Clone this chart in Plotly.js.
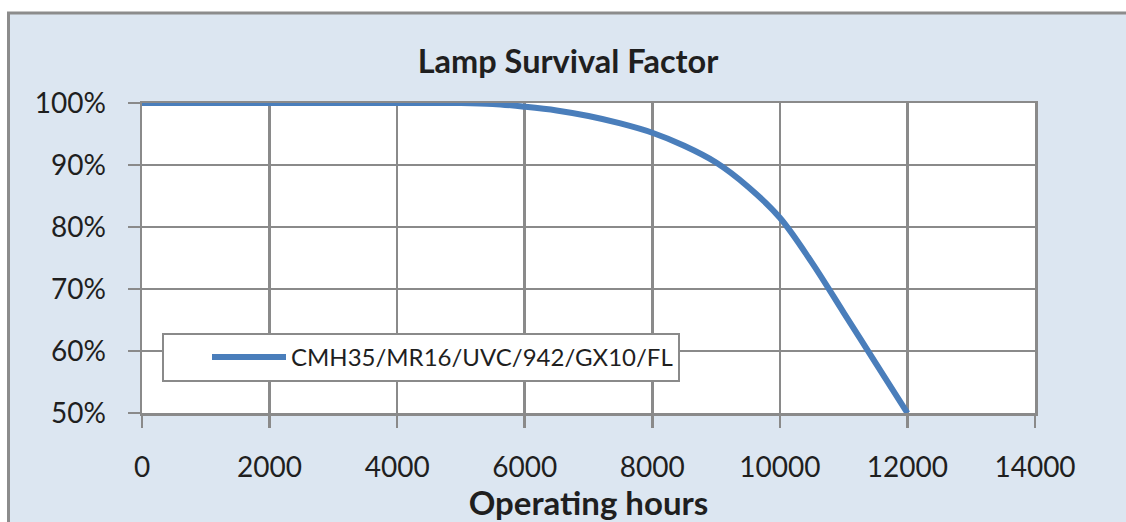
<!DOCTYPE html>
<html>
<head>
<meta charset="utf-8">
<script src="https://cdn.plot.ly/plotly-3.0.1.min.js"></script>
<style>
html,body{margin:0;padding:0;background:#fff;}
#chart{width:1126px;height:522px;}
</style>
</head>
<body>
<div id="chart"></div>
<script>
// Data
const seriesName = "CMH35/MR16/UVC/942/GX10/FL";
const hours = [0, 1000, 2000, 3000, 4000, 5000, 5500, 6000, 6500, 7000, 7500, 8000, 8500, 9000, 9500, 10000, 10500, 11000, 11500, 12000];
const survival = [100, 100, 100, 100, 100, 100, 99.85, 99.4, 98.8, 97.9, 96.7, 95.2, 93.1, 90.4, 86.5, 81.5, 74.3, 66.2, 58.1, 50.0];
const xTicks = [0, 2000, 4000, 6000, 8000, 10000, 12000, 14000];
const yTicks = [50, 60, 70, 80, 90, 100];
const yTickLabels = ["50%", "60%", "70%", "80%", "90%", "100%"];
const chartTitle = "Lamp Survival Factor";
const xTitle = "Operating hours";

const W = 1126, H = 522;
const L = 142, R = 1035, T = 103, B = 413;
const px2x = p => (p - L) / (R - L);
const px2y = p => (B - p) / (B - T);

const font = "Lato, 'Open Sans', sans-serif";
const gridCol = "#8a8a8a";
const textCol = "#1f1f1f";

const trace = {
  x: hours,
  y: survival,
  type: "scatter",
  mode: "lines",
  name: seriesName,
  line: {color: "#4a7ebb", width: 6, shape: "spline", smoothing: 1}
};

const layout = {
  width: W, height: H,
  margin: {l: L, r: W - R, t: T, b: H - B, pad: 0},
  paper_bgcolor: "#ffffff",
  plot_bgcolor: "#ffffff",
  title: {
    text: "<b>" + chartTitle + "</b>",
    font: {family: font, size: 32.5, color: textCol},
    xref: "container", x: 568 / W, xanchor: "center",
    yref: "container", y: 1 - 62 / H, yanchor: "middle"
  },
  xaxis: {
    range: [0, 14000],
    tickvals: xTicks,
    ticktext: xTicks.map(String),
    showgrid: true, gridcolor: gridCol, gridwidth: 2.5,
    showline: true, linecolor: gridCol, linewidth: 2.5, mirror: true,
    ticks: "outside", ticklen: 12, tickwidth: 2.5, tickcolor: gridCol,
    ticklabelstandoff: 16,
    tickfont: {family: font, size: 28, color: textCol},
    zeroline: false,
    title: {text: "<b>" + xTitle + "</b>", font: {family: font, size: 33, color: textCol}, standoff: 4},
    fixedrange: true
  },
  yaxis: {
    range: [50, 100],
    tickvals: yTicks,
    ticktext: yTickLabels,
    showgrid: true, gridcolor: gridCol, gridwidth: 2.5,
    showline: true, linecolor: gridCol, linewidth: 2.5, mirror: true,
    ticks: "outside", ticklen: 12, tickwidth: 2.5, tickcolor: gridCol,
    ticklabelstandoff: 16,
    tickfont: {family: font, size: 28, color: textCol},
    zeroline: false,
    fixedrange: true
  },
  showlegend: true,
  legend: {
    x: px2x(162), y: px2y(333), xanchor: "left", yanchor: "top",
    bgcolor: "#ffffff", bordercolor: gridCol, borderwidth: 2,
    font: {family: font, size: 24, color: textCol},
    indentation: 43,
    itemwidth: 74,
    entrywidth: 520,
    tracegroupgap: 0
  },
  shapes: [
    {type: "rect", xref: "paper", yref: "paper", layer: "below",
     x0: px2x(8.5), x1: px2x(1140), y0: px2y(540), y1: px2y(13),
     fillcolor: "#dce6f1", line: {color: "#8c8c8c", width: 3}},
    {type: "rect", xref: "paper", yref: "paper", layer: "below",
     x0: 0, x1: 1, y0: 0, y1: 1, fillcolor: "#ffffff", line: {width: 0}}
  ]
};

Plotly.newPlot("chart", [trace], layout, {displayModeBar: false, staticPlot: true});
</script>
</body>
</html>
